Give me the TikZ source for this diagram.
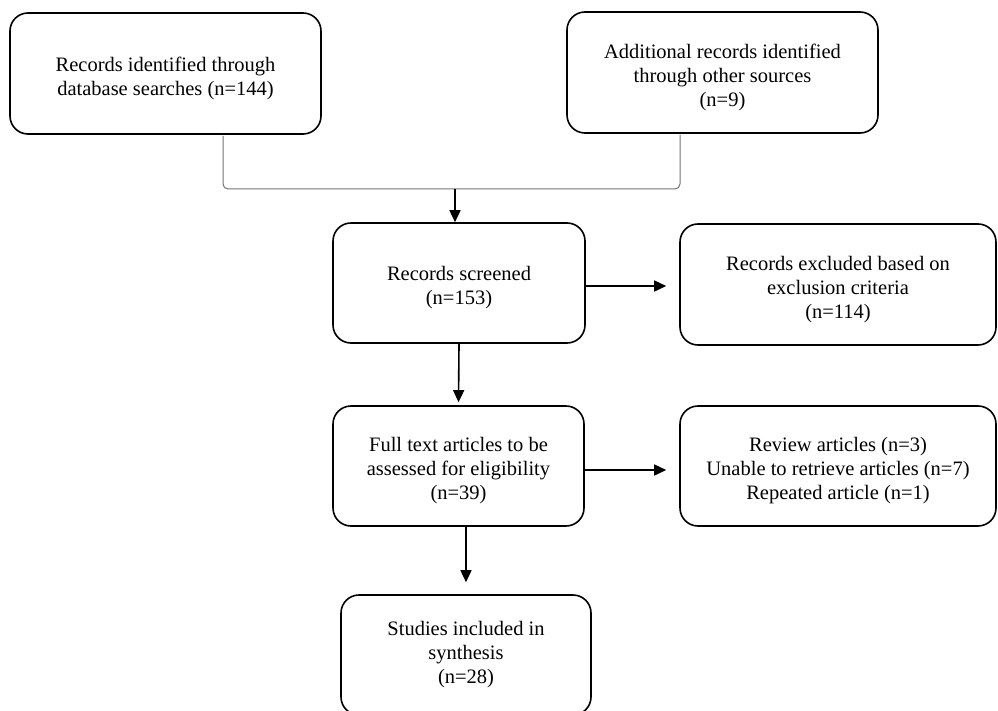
\documentclass[tikz,border=0pt]{standalone}
\usepackage{fontspec}
\setmainfont{Liberation Serif}
\usetikzlibrary{positioning, arrows.meta}
\newcommand{\lowtext}{\rule{0pt}{24pt}} % pushes the text of a box a little down
\tikzset{
box/.style={draw, line width=1.6pt, rounded corners=18pt, align=center, font=\fontsize{20.5}{24}\selectfont}, % every record box
flow/.style={-{Triangle[length=12pt,width=11pt]}, line width=1.6pt}, % black arrows
bracketline/.style={draw=black!55, line width=1pt, rounded corners=5pt}, % thin bracket under the two top boxes
}
\begin{document}
\begin{tikzpicture}[x=1pt,y=-1pt]
        \clip (0,0) rectangle (998,711);
        \node[box, minimum width=311pt, minimum height=121pt] (id) at (165.5,73.5) {\lowtext Records identified through\\database searches (n=144)};
        \node[box, minimum width=311pt, minimum height=121pt] (add) at (722.5,72.5) {\lowtext Additional records identified\\through other sources\\(n=9)};
        \node[box, minimum width=252pt, minimum height=120pt] (scr) at (459,283) {\lowtext Records screened\\(n=153)};
        \node[box, minimum width=316pt, minimum height=121pt] (exc) at (838,284.5) {\lowtext Records excluded based on\\exclusion criteria\\(n=114)};
        \node[box, minimum width=251pt, minimum height=120pt] (full) at (458.5,466) {\lowtext Full text articles to be\\assessed for eligibility\\(n=39)};
        \node[box, minimum width=316pt, minimum height=120pt] (rem) at (838,466) {\lowtext Review articles (n=3)\\Unable to retrieve articles (n=7)\\Repeated article (n=1)};
        \node[box, minimum width=250pt, minimum height=120pt] (inc) at (466,655) {Studies included in\\synthesis\\(n=28)};
        \coordinate (jl) at (223,189);
        \coordinate (jr) at (680,189);
        \coordinate (jm) at (455,189);
        %bracket
        \draw[bracketline] ([yshift=-1pt]id.south -| jl) -- (jl) -- (jr) -- ([yshift=-1pt]add.south -| jr);
        %arrows
        \draw[flow] (jm) -- (scr.north -| jm);
        \draw[flow, shorten >=13pt] ([yshift=-3pt]scr.east) -- ([yshift=-3pt]scr.east -| exc.west);
        \draw[flow, shorten >=3pt] (scr.south) -- (full.north);
        \draw[flow, shorten >=13pt] ([yshift=-4pt]full.east) -- ([yshift=-4pt]full.east -| rem.west);
        \draw[flow, shorten >=12pt] (full.south -| inc.north) -- (inc.north);
\end{tikzpicture}
\end{document}
